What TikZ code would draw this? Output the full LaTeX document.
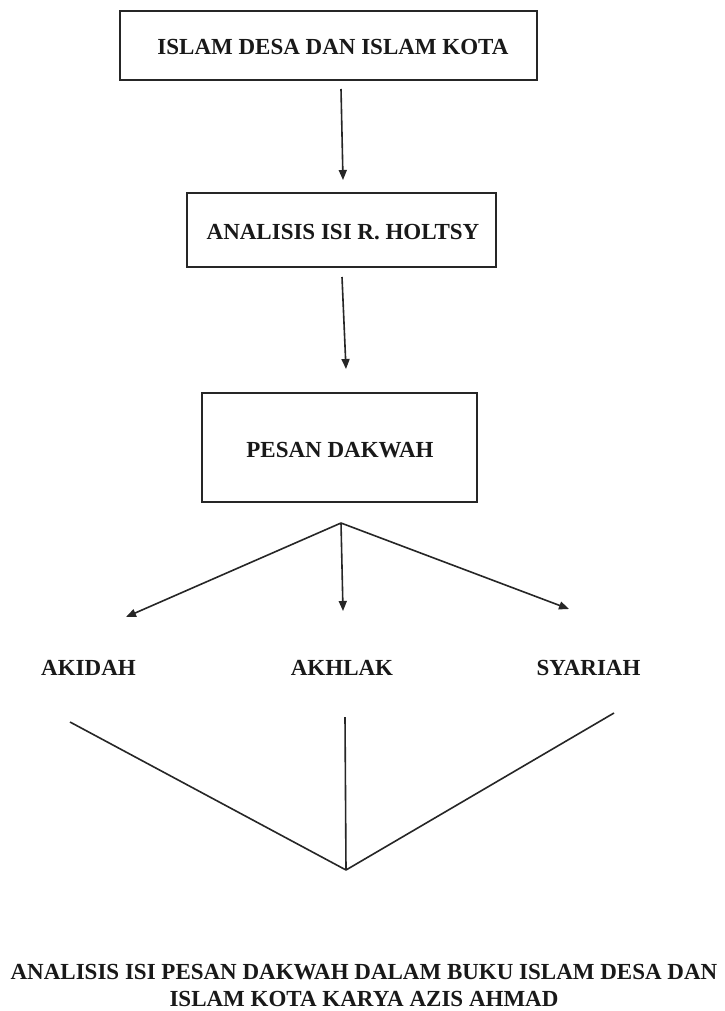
\documentclass[tikz,border=0pt]{standalone}
\usepackage{fontspec}
\setmainfont{Liberation Serif}
\usetikzlibrary{arrows.meta}
\begin{document}
\begin{tikzpicture}[x=1pt,y=-1pt,
  every node/.style={font=\fontsize{23}{26}\selectfont\bfseries, text=black!90, inner sep=0pt},
  boxnode/.style={draw=black!85, line width=2pt},
  arr/.style={draw=black!85, line width=1.6pt, -{Triangle[length=10pt,width=8pt]}},
  ln/.style={draw=black!85, line width=1.6pt}]
\useasboundingbox (0,0) rectangle (724,1011);
\fill[white] (0,0) rectangle (724,1011);
% boxes
\node[boxnode, minimum width=417pt, minimum height=69pt] (b1) at (328.5,45.5) {};
\node (t1) at (333,47) {ISLAM DESA DAN ISLAM KOTA};
\node[boxnode, minimum width=309pt, minimum height=74pt] (b2) at (341.5,230) {};
\node (t2) at (343,232) {ANALISIS ISI R. HOLTSY};
\node[boxnode, minimum width=275pt, minimum height=109pt] (b3) at (339.5,447.5) {};
\node (t3) at (340,450) {PESAN DAKWAH};
% arrows between boxes
\coordinate (a1s) at (341,89);
\coordinate (a1e) at (343,180);
\draw[arr] (a1s) -- (a1e);
\coordinate (a2s) at (342,277);
\coordinate (a2e) at (346,369);
\draw[arr] (a2s) -- (a2e);
% branching
\coordinate (br) at (341,523);
\coordinate (el) at (126,617);
\coordinate (ec) at (343,611);
\coordinate (er) at (569,609);
\draw[arr] (br) -- (el);
\draw[arr] (br) -- (ec);
\draw[arr] (br) -- (er);
% labels
\node (akidah) at (88.5,668) {AKIDAH};
\node (akhlak) at (342,668) {AKHLAK};
\node (syariah) at (588.5,668) {SYARIAH};
% converging lines
\coordinate (ls) at (70,722);
\coordinate (cs) at (345,717);
\coordinate (rs) at (614,713);
\coordinate (apex) at (346,870);
\draw[ln] (ls) -- (apex);
\draw[ln] (cs) -- (apex);
\draw[ln] (rs) -- (apex);
% bottom title
\node[align=center, font=\fontsize{23}{27}\selectfont\bfseries] (title) at (364,985) {ANALISIS ISI PESAN DAKWAH DALAM BUKU ISLAM DESA DAN\\ISLAM KOTA KARYA AZIS AHMAD};
\end{tikzpicture}
\end{document}
